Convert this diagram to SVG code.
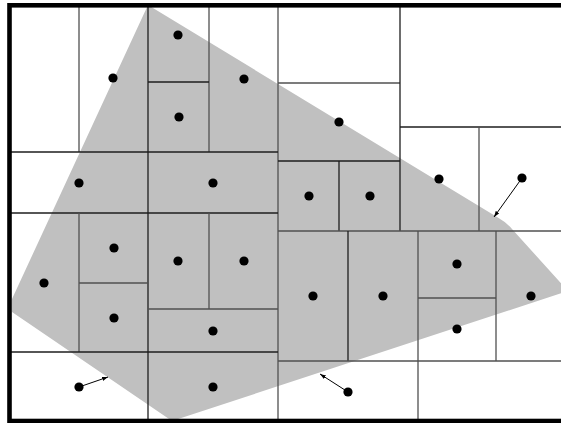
<svg xmlns="http://www.w3.org/2000/svg" width="561" height="423" viewBox="0 0 561 423">
<style>
.dk{stroke:#1e1e1e;stroke-width:1.3;fill:none}
.lt{stroke:#505050;stroke-width:1.3;fill:none}
.pt{fill:#000}
.ar{stroke:#000;stroke-width:1;fill:none;marker-end:url(#ah)}
</style>
<defs>
<marker id="ah" viewBox="0 0 10 10" refX="10" refY="5" markerWidth="6" markerHeight="6" orient="auto" markerUnits="userSpaceOnUse">
<path d="M0,1.5 L10,5 L0,8.5 Z" fill="#000"/>
</marker>
</defs>
<rect x="0" y="0" width="561" height="423" fill="#fff"/>
<g id="region">
<path d="M148,5 L497,217 Q506,222 512,229 L568,291 L172,421 L12,312 L12,299 Z" fill="#c0c0c0"/>
</g>
<g id="grid">
<line class="dk" x1="148" y1="5" x2="148" y2="421"/>
<line class="lt" x1="278" y1="5" x2="278" y2="421"/>
<line class="lt" x1="79" y1="5" x2="79" y2="152"/>
<line class="lt" x1="209" y1="5" x2="209" y2="152"/>
<line class="dk" x1="148" y1="82" x2="209" y2="82"/>
<line class="dk" x1="9" y1="152" x2="278" y2="152"/>
<line class="dk" x1="9" y1="213" x2="278" y2="213"/>
<line class="lt" x1="79" y1="213" x2="79" y2="352"/>
<line class="lt" x1="79" y1="283" x2="148" y2="283"/>
<line class="lt" x1="209" y1="213" x2="209" y2="309"/>
<line class="lt" x1="148" y1="309" x2="278" y2="309"/>
<line class="dk" x1="9" y1="352" x2="278" y2="352"/>
<line class="lt" x1="278" y1="83" x2="400" y2="83"/>
<line class="dk" x1="400" y1="5" x2="400" y2="231"/>
<line class="dk" x1="400" y1="127" x2="565" y2="127"/>
<line class="lt" x1="479" y1="127" x2="479" y2="231"/>
<line class="dk" x1="278" y1="161" x2="400" y2="161"/>
<line class="dk" x1="339" y1="161" x2="339" y2="231"/>
<line class="lt" x1="278" y1="231" x2="565" y2="231"/>
<line class="dk" x1="348" y1="231" x2="348" y2="361"/>
<line class="lt" x1="418" y1="231" x2="418" y2="421"/>
<line class="lt" x1="418" y1="298" x2="496" y2="298"/>
<line class="lt" x1="496" y1="231" x2="496" y2="361"/>
<line class="lt" x1="278" y1="361" x2="565" y2="361"/>
</g>
<rect x="9.5" y="5.3" width="562" height="415.7" fill="none" stroke="#000" stroke-width="4.6"/>
<g id="connectors">
<line class="ar" x1="79" y1="387" x2="108" y2="377"/>
<line class="ar" x1="348" y1="392" x2="320" y2="374"/>
<line class="ar" x1="522" y1="178" x2="494" y2="217"/>
</g>
<g id="points">
<g id="p1"><circle class="pt" cx="178" cy="35" r="4.6"/></g>
<g id="p2"><circle class="pt" cx="113" cy="78" r="4.6"/></g>
<g id="p3"><circle class="pt" cx="244" cy="79" r="4.6"/></g>
<g id="p4"><circle class="pt" cx="179" cy="117" r="4.6"/></g>
<g id="p5"><circle class="pt" cx="79" cy="183" r="4.6"/></g>
<g id="p6"><circle class="pt" cx="213" cy="183" r="4.6"/></g>
<g id="p7"><circle class="pt" cx="339" cy="122" r="4.6"/></g>
<g id="p8"><circle class="pt" cx="309" cy="196" r="4.6"/></g>
<g id="p9"><circle class="pt" cx="370" cy="196" r="4.6"/></g>
<g id="p10"><circle class="pt" cx="439" cy="179" r="4.6"/></g>
<g id="p11"><circle class="pt" cx="522" cy="178" r="4.6"/></g>
<g id="p12"><circle class="pt" cx="114" cy="248" r="4.6"/></g>
<g id="p13"><circle class="pt" cx="44" cy="283" r="4.6"/></g>
<g id="p14"><circle class="pt" cx="114" cy="318" r="4.6"/></g>
<g id="p15"><circle class="pt" cx="178" cy="261" r="4.6"/></g>
<g id="p16"><circle class="pt" cx="244" cy="261" r="4.6"/></g>
<g id="p17"><circle class="pt" cx="213" cy="331" r="4.6"/></g>
<g id="p18"><circle class="pt" cx="79" cy="387" r="4.6"/></g>
<g id="p19"><circle class="pt" cx="213" cy="387" r="4.6"/></g>
<g id="p20"><circle class="pt" cx="313" cy="296" r="4.6"/></g>
<g id="p21"><circle class="pt" cx="383" cy="296" r="4.6"/></g>
<g id="p22"><circle class="pt" cx="457" cy="264" r="4.6"/></g>
<g id="p23"><circle class="pt" cx="531" cy="296" r="4.6"/></g>
<g id="p24"><circle class="pt" cx="457" cy="329" r="4.6"/></g>
<g id="p25"><circle class="pt" cx="348" cy="392" r="4.6"/></g>
</g>
</svg>
